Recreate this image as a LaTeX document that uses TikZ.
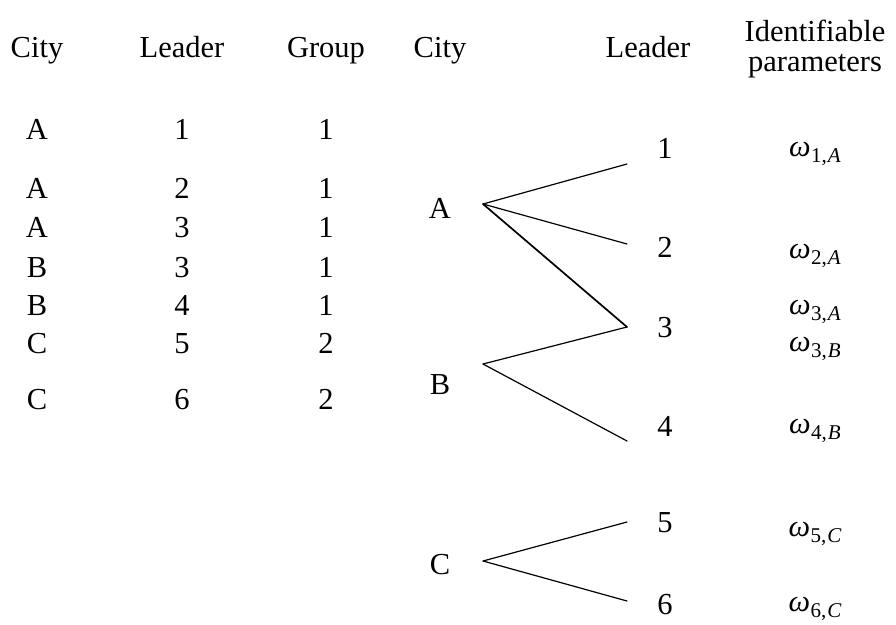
\documentclass[tikz,border=0pt]{standalone}
\usepackage{fontspec}
\setmainfont{Liberation Serif}
\newcommand{\wpar}[2]{\textit{ω}\kern0.5pt\raisebox{-0.2em}{\fontsize{21}{21}\selectfont #1,\kern1pt\textit{#2}}}
\begin{document}
\begin{tikzpicture}[x=1pt,y=-1pt,
  every node/.style={inner sep=0pt, outer sep=0pt, font=\fontsize{30.5}{30}\selectfont},
  txt/.style={anchor=base},
  conn/.style={line width=1.2pt, line cap=round},
  bold conn/.style={line width=1.7pt, line cap=round}]
\useasboundingbox (0,0) rectangle (896,624);
% headers
\node[txt] (h1) at (37,57) {City};
\node[txt] (h2) at (182,57) {Leader};
\node[txt] (h3) at (326,57) {Group};
\node[txt] (h4) at (440,57) {City};
\node[txt] (h5) at (648,57) {Leader};
\node[txt, align=center] (h6) at (815,71) {Identifiable\\parameters};
% left table
\foreach \c/\l/\g/\y [count=\i] in {A/1/1/139, A/2/1/198, A/3/1/237, B/3/1/277, B/4/1/315, C/5/2/353, C/6/2/409}{
  \node[txt] (tc\i) at (37,\y) {\c};
  \node[txt] (tl\i) at (182,\y) {\l};
  \node[txt] (tg\i) at (326,\y) {\g};
}
% right cities
\node[txt] (cA) at (440,218) {A};
\node[txt] (cB) at (440,394) {B};
\node[txt] (cC) at (440,574) {C};
% leaders
\node[txt] (l1) at (665,158) {1};
\node[txt] (l2) at (665,257) {2};
\node[txt] (l3) at (665,337) {3};
\node[txt] (l4) at (665,436) {4};
\node[txt] (l5) at (665,532) {5};
\node[txt] (l6) at (665,614) {6};
% parameters
\node[txt] (w1) at (815,156) {\wpar{1}{A}};
\node[txt] (w2) at (815,258) {\wpar{2}{A}};
\node[txt] (w3) at (815,314) {\wpar{3}{A}};
\node[txt] (w4) at (815,351) {\wpar{3}{B}};
\node[txt] (w5) at (815,433) {\wpar{4}{B}};
\node[txt] (w6) at (815,536) {\wpar{5}{C}};
\node[txt] (w7) at (815,611) {\wpar{6}{C}};
% connector end points
\coordinate (pA) at (483,204);
\coordinate (pB) at (483,364);
\coordinate (pC) at (483,561);
\coordinate (e1) at (627,164);
\coordinate (e2) at (627,244);
\coordinate (e3) at (627,327);
\coordinate (e4) at (627,441);
\coordinate (e5) at (627,522);
\coordinate (e6) at (627,601);
\draw[conn] (pA) -- (e1);
\draw[conn] (pA) -- (e2);
\draw[bold conn] (pA) -- (e3);
\draw[conn] (pB) -- (e3);
\draw[conn] (pB) -- (e4);
\draw[conn] (pC) -- (e5);
\draw[conn] (pC) -- (e6);
\end{tikzpicture}
\end{document}
